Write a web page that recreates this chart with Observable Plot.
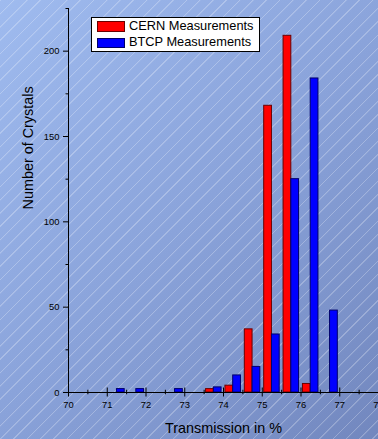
<!DOCTYPE html>
<html>
<head>
<meta charset="utf-8">
<script src="https://cdn.jsdelivr.net/npm/d3@7"></script>
<script src="https://cdn.jsdelivr.net/npm/@observablehq/plot@0.6"></script>
<style>
  html, body { margin: 0; padding: 0; }
  #chart {
    position: relative;
    width: 378px;
    height: 439px;
    overflow: hidden;
    font-family: "Liberation Sans", Arial, sans-serif;
    background:
      repeating-linear-gradient(135deg, rgba(255,255,255,0.26) 0px, rgba(255,255,255,0.26) 0.7px, rgba(255,255,255,0) 1.3px, rgba(255,255,255,0) 9.4px),
      linear-gradient(135deg, #9fbbef 0%, #8aa3da 50%, #7287be 100%);
  }
  #chart svg { position: absolute; left: 0; top: 0; }
  .legend {
    position: absolute;
    left: 91px; top: 17px;
    width: 167px; height: 33px;
    background: #fff;
    border: 1px solid #000;
  }
  .legend .row {
    position: relative;
    height: 16.5px;
    display: flex;
    align-items: center;
  }
  .legend .sw {
    position: absolute;
    left: 5px;
    width: 26px; height: 8.5px;
  }
  .legend .lab {
    position: absolute;
    left: 37px;
    font-size: 12.8px;
    color: #000;
    white-space: nowrap;
    line-height: 1;
  }
</style>
</head>
<body>
<div id="chart"></div>
<script>
// Histogram of crystal transmission: bin centres (%, 0.5 wide) and counts per bin
const binCenters = [71.25, 71.75, 72.25, 72.75, 73.25, 73.75, 74.25, 74.75, 75.25, 75.75, 76.25, 76.75];
const cernCounts = [0, 0, 0, 0, 0, 2, 4, 37, 168, 209, 5, 0];
const btcpCounts = [2, 2, 0, 2, 0, 3, 10, 15, 34, 125, 184, 48];

const seriesNames = ["CERN Measurements", "BTCP Measurements"];
const seriesFill = ["#ff0000", "#0000ff"];
const seriesStroke = ["#6a0000", "#00006a"];

const xMajorTicks = [70, 71, 72, 73, 74, 75, 76, 77, 78];
const xMinorTicks = [70.5, 71.5, 72.5, 73.5, 74.5, 75.5, 76.5, 77.5];
const yMajorTicks = [0, 50, 100, 150, 200];
const yMinorTicks = [25, 75, 125, 175, 225];

const xLabel = "Transmission in %";
const yLabel = "Number of Crystals";

// Each bin holds two side-by-side bars: CERN on the left of the centre, BTCP on the right
const barHalf = 0.2;
const cernBars = binCenters.map((c, i) => ({x1: c - barHalf, x2: c, n: cernCounts[i]})).filter(d => d.n > 0);
const btcpBars = binCenters.map((c, i) => ({x1: c, x2: c + barHalf, n: btcpCounts[i]})).filter(d => d.n > 0);

const tickFont = 9.4;

const plot = Plot.plot({
  width: 378,
  height: 439,
  marginLeft: 68,
  marginRight: 0,
  marginTop: 8,
  marginBottom: 47,
  style: {background: "transparent", fontFamily: "'Liberation Sans', Arial, sans-serif", color: "#000", overflow: "visible"},
  x: {domain: [70, 78]},
  y: {domain: [0, 225]},
  marks: [
    Plot.rectY(cernBars, {x1: "x1", x2: "x2", y: "n", fill: seriesFill[0], stroke: seriesStroke[0], strokeWidth: 1}),
    Plot.rectY(btcpBars, {x1: "x1", x2: "x2", y: "n", fill: seriesFill[1], stroke: seriesStroke[1], strokeWidth: 1}),
    // axis lines
    Plot.ruleX([70], {stroke: "#000", strokeWidth: 1}),
    Plot.ruleY([0], {stroke: "#000", strokeWidth: 1}),
    // y axis ticks and labels
    Plot.axisY(yMajorTicks, {tickSize: 5, tickPadding: 4, fontSize: tickFont, label: null, stroke: "#000"}),
    Plot.axisY(yMinorTicks, {tickSize: 2.5, tickFormat: () => "", label: null, stroke: "#000"}),
    // x axis ticks crossing the axis line, then labels
    Plot.axisX(xMajorTicks, {tickSize: 9, dy: -4.5, tickFormat: () => "", label: null, stroke: "#000"}),
    Plot.axisX(xMinorTicks, {tickSize: 4.5, dy: -2.25, tickFormat: () => "", label: null, stroke: "#000"}),
    Plot.axisX(xMajorTicks, {tickSize: 0, tickPadding: 9, fontSize: tickFont, label: null}),
    // axis titles
    Plot.text([xLabel], {frameAnchor: "bottom", dy: 35.5, lineAnchor: "middle", fontSize: 14.4, fill: "#000"}),
    Plot.text([yLabel], {frameAnchor: "left", dx: -39.7, dy: 9, rotate: -90, lineAnchor: "middle", fontSize: 14.4, fill: "#000"})
  ]
});

const chart = document.getElementById("chart");
chart.appendChild(plot);

// Legend box
const legend = document.createElement("div");
legend.className = "legend";
seriesNames.forEach((name, i) => {
  const row = document.createElement("div");
  row.className = "row";
  const sw = document.createElement("div");
  sw.className = "sw";
  sw.style.background = seriesFill[i];
  sw.style.border = "1px solid " + seriesStroke[i];
  const lab = document.createElement("div");
  lab.className = "lab";
  lab.textContent = name;
  row.appendChild(sw);
  row.appendChild(lab);
  legend.appendChild(row);
});
chart.appendChild(legend);
</script>
</body>
</html>
